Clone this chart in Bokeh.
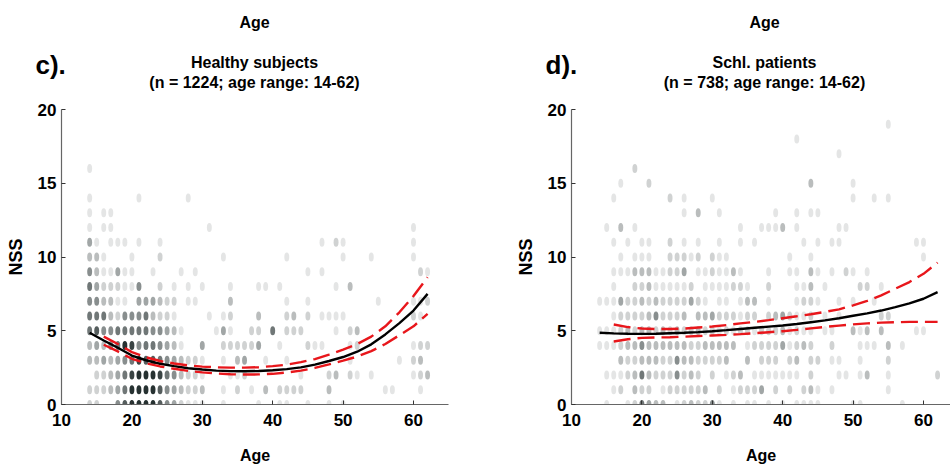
from bokeh.plotting import figure
from bokeh.layouts import row
from bokeh.models import Label, ColumnDataSource, Range1d
from bokeh.embed import file_html
from bokeh.resources import INLINE

FONT = "Liberation Sans"

# ---------------- data ----------------
# NSS value -> "age:density" tokens (density 1 = single light dot ... 9 = black)
healthy_rows = {
    16: "14:1",
    14: "14:1 21:1 28:1",
    13: "14:1 16:1 17:1",
    12: "14:1 16:1 17:1 31:1 60:1",
    11: "14:4 15:1 17:1 18:1 19:1 21:1 24:1 47:1 49:2 50:1 60:1",
    10: "14:3 15:3 16:1 20:1 24:2 33:1 42:1 50:1 54:1 60:1",
    9: "14:5 15:3 16:1 17:1 18:4 19:1 20:1 23:1 27:1 29:1 45:1 47:1 61:2 62:1",
    8: "14:6 15:4 16:2 17:2 18:2 19:1 20:1 21:5 24:2 26:1 28:1 30:1 34:1 38:1 39:1 41:1 49:1 51:3",
    7: "14:5 15:5 16:3 17:3 18:1 19:1 21:4 22:4 23:4 24:3 25:2 26:2 28:1 29:1 34:3 42:1 45:1 55:1 60:1 61:1 62:2",
    6: "14:6 15:6 16:6 17:3 18:2 19:5 20:5 21:5 22:6 23:3 24:2 25:2 26:1 31:1 33:1 34:2 38:3 42:2 43:3 45:2 47:1 48:1 49:1 50:1 60:2 61:1",
    5: "14:6 15:7 16:5 17:5 18:6 19:6 20:6 21:6 22:6 23:5 24:5 25:4 26:3 27:1 32:1 33:4 34:1 37:2 38:2 40:6 42:2 43:2 44:2 49:1 51:2 52:3",
    4: "14:3 15:4 16:3 17:5 18:6 19:9 20:8 21:5 22:6 23:6 24:5 25:4 26:3 27:1 30:4 33:2 34:2 35:2 36:2 37:2 38:4 41:1 45:2 46:1 47:1 51:1 52:2 60:1 61:2 62:2",
    3: "14:3 15:3 16:4 17:3 18:4 19:5 20:6 21:8 22:7 23:7 24:6 25:5 26:4 27:3 28:2 29:2 30:1 33:1 35:3 36:4 39:1 42:1 51:1 58:1 60:2 61:3",
    2: "15:2 16:2 17:3 18:4 19:6 20:8 21:9 22:9 23:9 24:8 25:6 26:5 27:3 28:2 29:2 30:1 34:1 35:1 36:2 44:1 48:2 49:3 51:2 52:1 54:1 60:1 61:2 62:3",
    1: "14:2 15:2 16:2 17:3 18:4 19:6 20:9 21:9 22:9 23:9 24:7 25:5 26:4 27:3 28:2 29:2 30:3 33:1 35:2 37:1 39:3 41:2 42:2 43:2 44:2 48:3 56:1 57:1 61:1",
    0: "14:2 15:2 18:5 19:7 20:9 21:9 22:9 23:9 24:7 25:5 26:4 27:2 28:1 29:1 30:1 33:1 38:1 41:1 42:1 45:1 48:1 50:1",
}

patient_rows = {
    19: "55:1",
    18: "42:1",
    17: "48:1",
    16: "19:2",
    15: "17:1 21:2 44:3 50:1",
    14: "16:1 24:2 26:1 30:1 50:1 53:1 55:1",
    13: "26:1 28:3 31:1 39:1 42:1 44:1 45:1",
    12: "15:1 17:3 19:1 34:1 37:1 38:1 39:1 40:3 42:1 48:1 49:1",
    11: "16:1 18:1 20:1 21:1 24:2 26:1 28:1 31:1 34:1 36:1 43:1 45:1 47:1 48:1 59:1 60:1",
    10: "17:1 19:1 20:1 21:1 24:2 25:2 26:2 27:1 28:2 30:2 31:1 32:1 41:1 44:1 60:1",
    9: "16:1 17:1 18:1 19:3 20:3 21:3 22:1 23:1 24:2 25:2 26:4 28:1 29:1 30:2 31:1 32:1 33:3 34:1 38:1 41:1 42:1 44:3 45:1 47:1 49:2 50:1 52:1",
    8: "16:1 19:2 20:2 21:3 22:1 23:1 24:1 25:1 26:1 27:2 29:1 30:1 31:1 32:1 33:2 34:2 35:1 38:2 42:1 43:1 44:3 46:1 51:2 52:2 54:1",
    7: "14:1 15:1 16:1 17:4 18:2 19:2 20:3 21:2 22:3 23:2 24:2 25:2 26:2 27:4 28:2 29:1 31:1 32:1 34:1 35:3 36:3 38:1 42:1 43:2 44:2 45:1 48:1 50:1 53:1",
    6: "16:1 17:2 18:2 19:2 20:2 21:3 22:5 23:2 24:2 25:2 26:3 28:3 29:3 30:4 31:2 32:2 33:2 34:1 35:2 36:2 38:2 39:3 40:4 41:2 42:1 43:1 44:2 46:1 48:1 54:2 55:2",
    5: "14:1 15:1 16:1 17:2 18:3 19:2 20:3 21:3 22:2 23:3 24:2 25:3 26:2 27:2 28:3 29:2 30:2 31:1 32:2 33:1 34:2 35:2 36:1 37:2 38:2 39:2 40:3 41:1 42:2 43:1 44:1 46:1 47:1 50:3 51:1 52:3 54:3 59:1 60:1",
    4: "14:1 15:1 16:1 17:2 18:3 19:3 20:5 21:3 22:3 23:3 24:3 25:3 26:3 27:2 28:2 29:3 30:3 31:3 32:3 33:3 35:1 36:2 37:2 38:2 39:2 40:4 41:1 42:2 43:3 44:2 47:2 51:1 52:1 53:1 55:3 57:1",
    3: "17:3 18:2 19:2 20:3 21:3 22:3 23:2 24:2 25:5 26:3 27:3 28:2 29:2 30:2 31:2 32:3 35:3 37:2 38:2 39:2 41:2 42:3 44:2 45:2 47:1 48:1 51:1 55:2",
    2: "15:1 16:1 17:1 18:2 19:3 20:6 21:3 22:2 23:2 24:2 25:5 26:2 27:3 28:2 30:2 32:1 33:2 34:3 36:1 37:1 38:1 39:1 40:1 41:1 42:1 44:2 48:1 49:1 51:1 52:3 55:1 62:2",
    1: "16:1 17:2 19:3 20:2 21:2 23:1 24:2 25:2 26:2 27:2 28:2 29:3 31:2 33:1 34:2 35:2 36:2 37:4 39:2 41:2 43:2 44:3 45:1 47:1 55:1",
    0: "15:1 18:1 19:2 20:6 21:4 22:3 23:3 25:1 26:2 27:3 28:2 29:2 30:5 31:1 33:1 35:1 36:1 38:1 40:1 42:1 43:1 44:1 45:1 50:1 51:1 57:1",
}

fit_age = [14, 16, 18, 20, 22, 24, 26, 28, 30, 32, 34, 36, 38, 40, 42, 44, 46, 48, 50, 52, 54, 56, 58, 60, 62]
ci_age = fit_age[1:]

healthy_fit = [4.86, 4.34, 3.85, 3.32, 3.0, 2.76, 2.6, 2.46, 2.37, 2.3, 2.26, 2.25, 2.27, 2.32, 2.4,
               2.52, 2.7, 2.95, 3.22, 3.58, 4.08, 4.75, 5.52, 6.37, 7.5]
healthy_upper = [4.6, 4.1, 3.55, 3.2, 2.95, 2.78, 2.65, 2.57, 2.52, 2.5, 2.5, 2.53, 2.6, 2.7, 2.87,
                 3.08, 3.38, 3.72, 4.1, 4.6, 5.3, 6.25, 7.35, 8.63]
healthy_lower = [4.05, 3.6, 3.1, 2.8, 2.58, 2.42, 2.28, 2.18, 2.1, 2.05, 2.03, 2.04, 2.08, 2.17, 2.3,
                 2.48, 2.72, 2.97, 3.25, 3.62, 4.1, 4.7, 5.3, 6.15]

patient_fit = [4.86, 4.82, 4.8, 4.79, 4.8, 4.83, 4.86, 4.91, 4.97, 5.04, 5.12, 5.2, 5.28, 5.36, 5.46,
               5.58, 5.7, 5.85, 6.02, 6.18, 6.37, 6.6, 6.85, 7.17, 7.62]
patient_upper = [5.42, 5.25, 5.15, 5.12, 5.12, 5.15, 5.22, 5.29, 5.38, 5.5, 5.6, 5.72, 5.85, 5.98,
                 6.12, 6.28, 6.45, 6.72, 7.02, 7.4, 7.85, 8.3, 8.86, 9.62]
patient_lower = [4.27, 4.42, 4.52, 4.55, 4.56, 4.6, 4.64, 4.68, 4.72, 4.77, 4.83, 4.9, 4.97, 5.06,
                 5.16, 5.26, 5.35, 5.43, 5.5, 5.55, 5.58, 5.6, 5.6, 5.6]

x_ticks = [10, 20, 30, 40, 50, 60]
y_ticks = [0, 5, 10, 15, 20]

# ---------------- styling / layout ----------------
DOT = "#1f2a2a"
ALPHA = [0.0, 0.12, 0.21, 0.31, 0.42, 0.53, 0.64, 0.76, 0.88, 0.97]
RED = "#e8161b"
W, H = 475, 469
PX_PER_AGE = 7.04      # pixels per year of age
PX_PER_NSS = 14.75     # pixels per NSS point
Y0_PX = 404            # pixel row of NSS = 0


def expand(rows):
    ages, nss, alpha = [], [], []
    for n, s in rows.items():
        for tok in s.split():
            a, lev = tok.split(":")
            ages.append(int(a))
            nss.append(n)
            alpha.append(ALPHA[int(lev)])
    return dict(age=ages, nss=nss, alpha=alpha)


def panel(rows, fit, upper, lower, letter, title1, title2, axis_px, xmax):
    # axis_px: pixel column (inside this figure) where Age = 10 sits
    def dx(px):
        return 10 + (px - axis_px) / PX_PER_AGE

    def dy(py):
        return (Y0_PX - py) / PX_PER_NSS

    p = figure(width=W, height=H, output_backend="svg", toolbar_location=None, title_location=None,
               x_range=Range1d(dx(0), dx(W)), y_range=Range1d(dy(H), dy(0)),
               min_border=0, min_border_left=0, min_border_right=0,
               min_border_top=0, min_border_bottom=0)
    p.outline_line_color = None
    p.xgrid.visible = False
    p.ygrid.visible = False

    src = ColumnDataSource(expand(rows))
    p.ellipse(x="age", y="nss", width=0.7, height=0.62, fill_color=DOT, fill_alpha="alpha",
              line_color=None, source=src)
    # mask the part of the bottom row that falls below the x axis
    p.quad(left=dx(0), right=dx(W), bottom=dy(H), top=0, fill_color="white", line_color=None)

    p.line(fit_age, fit, line_color="black", line_width=2.4)
    p.line(ci_age, upper, line_color=RED, line_width=2.4, line_dash="17 7")
    p.line(ci_age, lower, line_color=RED, line_width=2.4, line_dash="17 7")

    for ax in (p.xaxis, p.yaxis):
        ax.axis_line_color = "#666666"
        ax.axis_line_width = 1.2
        ax.major_tick_line_color = "#333333"
        ax.major_tick_in = 4
        ax.major_tick_out = 0
        ax.minor_tick_line_color = None
        ax.major_label_text_font = FONT
        ax.major_label_text_font_style = "bold"
        ax.major_label_text_font_size = "17px"
        ax.major_label_text_color = "black"
        ax.axis_label_text_font = FONT
        ax.axis_label_text_font_style = "bold"
        ax.axis_label_text_color = "black"
    p.xaxis.ticker = x_ticks
    p.yaxis.ticker = y_ticks
    p.xaxis.fixed_location = 0
    p.yaxis.fixed_location = 10
    p.xaxis.bounds = (10, xmax)
    p.yaxis.bounds = (0, 20)
    p.xaxis.major_label_standoff = 9
    p.yaxis.major_label_standoff = 5
    p.xaxis.axis_label = "Age"
    p.xaxis.axis_label_text_font_size = "16px"
    p.xaxis.axis_label_standoff = 18
    p.yaxis.axis_label = "NSS"
    p.yaxis.axis_label_text_font_size = "18px"
    p.yaxis.axis_label_standoff = 9

    cx = axis_px + 193

    def lab(px, py, text, size, align="center"):
        p.add_layout(Label(x=dx(px), y=dy(py), text=text, text_font=FONT, text_font_style="bold",
                           text_font_size=size, text_align=align, text_baseline="middle",
                           text_color="black"))

    lab(cx, 22, "Age", "16px")
    lab(cx, 62, title1, "16px")
    lab(cx, 82, title2, "16px")
    lab(axis_px - 26, 64, letter, "26px", align="left")
    return p


p1 = panel(healthy_rows, healthy_fit, healthy_upper, healthy_lower, "c).",
           "Healthy subjects", "(n = 1224; age range: 14-62)", 61, 65)
p2 = panel(patient_rows, patient_fit, patient_upper, patient_lower, "d).",
           "Schl. patients", "(n = 738; age range: 14-62)", 96, 10 + (W - 96) / PX_PER_AGE)

layout = row(p1, p2)
open("out.html", "w").write(file_html(layout, INLINE))
